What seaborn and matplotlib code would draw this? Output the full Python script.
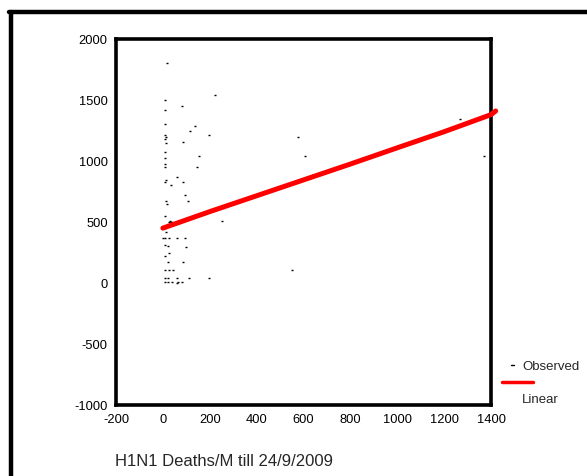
import numpy as np
import pandas as pd
import matplotlib
matplotlib.use("Agg")
import matplotlib.pyplot as plt
import seaborn as sns
from matplotlib.lines import Line2D

# ── Data ─────────────────────────────────────────────────────────────────────
obs_x = [18, 222, 9, 81, 9, 9, 138, 116, 195, 9, 13, 9, 13, 85, 576, 9, 154,
         607, 9, 9, 9, 144, 61, 13, 9, 34, 85, 95, 13, 18, 107, 191, 9, 253,
         25, 30, 35, 40, 9, 13, 0, 9, 25, 60, 95, 9, 20, 97, 27, 9, 23, 85,
         553, 25, 45, 9, 9, 23, 59, 112, 195, 9, 23, 37, 65, 81, 60, 1267, 1371]
obs_y = [1805, 1537, 1504, 1454, 1421, 1304, 1285, 1243, 1216, 1216, 1194,
         1180, 1150, 1153, 1194, 1074, 1038, 1043, 1024, 975, 947, 947, 865,
         846, 827, 805, 824, 723, 676, 647, 674, 592, 553, 512, 500, 505, 500,
         500, 450, 420, 370, 370, 370, 370, 370, 312, 305, 293, 244, 219, 175,
         175, 104, 107, 107, 107, 38, 38, 38, 38, 38, 8, 8, 8, 8, 8, 0, 1348,
         1043]

fit_x = [0, 200, 400, 600, 800, 1000, 1200, 1400, 1420]
fit_y = [450, 585, 715, 845, 975, 1108, 1240, 1380, 1410]

x_ticks = [-200, 0, 200, 400, 600, 800, 1000, 1200, 1400]
y_ticks = [-1000, -500, 0, 500, 1000, 1500, 2000]
X_LABEL = "H1N1 Deaths/M till 24/9/2009"

sns.set_style("white")
plt.rcParams["font.family"] = ["Liberation Sans", "DejaVu Sans"]
plt.rcParams["axes.unicode_minus"] = False

W, H = 587, 477
fig = plt.figure(figsize=(W / 100, H / 100), dpi=100)
fig.patch.set_facecolor("white")
ax = fig.add_axes([116 / W, 1 - 406 / H, (491 - 116) / W, (406 - 40) / H])

obs = pd.DataFrame({"x": obs_x, "y": obs_y})
fit = pd.DataFrame({"x": fit_x, "y": fit_y})

sns.scatterplot(data=obs, x="x", y="y", ax=ax, marker="_", s=3.5,
                color="black", linewidth=1, zorder=3)
sns.lineplot(data=fit, x="x", y="y", ax=ax, color="red", linewidth=3.6,
             clip_on=False, zorder=4)

ax.set_xlim(-200, 1400)
ax.set_ylim(-1000, 2000)
ax.set_xticks(x_ticks)
ax.set_yticks(y_ticks)
ax.tick_params(direction="out", length=3, width=2.5, labelsize=9.3,
               colors="black", pad=3)
ax.set_xlabel("")
ax.set_ylabel("")
for sp in ax.spines.values():
    sp.set_visible(True)
    sp.set_linewidth(2.6)
    sp.set_color("black")

fig.text(115 / W, 1 - 462 / H, X_LABEL, fontsize=12, va="center", ha="left")

# ── Legend (drawn by hand: label under the line) ─────────────────────────────
fig.add_artist(Line2D([511 / W, 514 / W], [1 - 366 / H] * 2, color="black", lw=1))
fig.text(522 / W, 1 - 367 / H, "Observed", fontsize=9.5, va="center")
fig.add_artist(Line2D([502 / W, 533 / W], [1 - 383 / H] * 2, color="red", lw=2.5))
fig.text(522 / W, 1 - 400 / H, "Linear", fontsize=9.5, va="center")

# ── Outer frame (left and top edges) ─────────────────────────────────────────
fig.add_artist(Line2D([10.5 / W, 10.5 / W], [0, 1 - 13 / H], color="black", lw=3.2))
fig.add_artist(Line2D([9 / W, 1], [1 - 13 / H] * 2, color="black", lw=3.2))

fig.savefig("out.png", dpi=100, facecolor="white")
